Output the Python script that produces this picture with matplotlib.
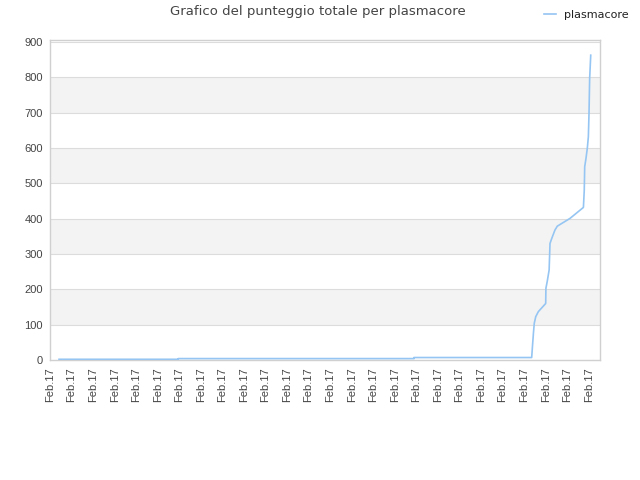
import matplotlib
matplotlib.use("Agg")
import matplotlib.pyplot as plt

# x in tick-slot units (tick i = i-th "Feb.17" label), y = total score
xs = [0.42, 5.95, 5.95, 16.89, 16.89, 22.35, 22.38, 22.43, 22.47, 22.54, 22.66,
      23.00, 23.01, 23.07, 23.16, 23.20, 23.28, 23.43, 23.54, 24.13, 24.75,
      24.79, 24.81, 24.87, 24.93, 24.98, 25.01, 25.04, 25.09]
scores = [2, 2, 4, 4, 7, 7, 33, 75, 104, 123, 137,
          160, 203, 222, 255, 330, 344, 368, 379, 401, 432,
          481, 547, 571, 599, 632, 698, 797, 863]
tick_labels = ["Feb.17"] * 26
yticks = [0, 100, 200, 300, 400, 500, 600, 700, 800, 900]

fig = plt.figure(figsize=(6.4, 4.8), dpi=100)
ax = fig.add_axes([50/640, 120/480, 550/640, 320/480])

# alternating bands
for lo in range(100, 900, 200):
    ax.axhspan(lo, lo + 100, color="#f3f3f3", zorder=0, lw=0)
for y in yticks[1:]:
    ax.axhline(y, color="#dcdcdc", lw=0.8, zorder=1)

ax.plot(xs, scores, color="#95c5f2", lw=1.2, label="plasmacore", zorder=3)

ax.set_xlim(0, 25.52)
ax.set_ylim(0, 906)
ax.set_yticks(yticks)
ax.set_xticks(range(len(tick_labels)))
ax.set_xticklabels(tick_labels, rotation=90, fontsize=8, color="#444444",
                   family="Liberation Sans")
for t in ax.get_yticklabels():
    t.set_fontsize(8); t.set_color("#444444"); t.set_family("Liberation Sans")
ax.tick_params(length=0, pad=5)
for s in ax.spines.values():
    s.set_color("#d0d0d0"); s.set_linewidth(1)

fig.text(318/640, 1 - 12/480, "Grafico del punteggio totale per plasmacore",
         ha="center", va="center", fontsize=9.5, color="#444444")
leg = fig.legend(loc="center left", bbox_to_anchor=(540/640, 1 - 15/480), frameon=False,
                 fontsize=8, handlelength=1.0, handletextpad=0.8, borderaxespad=0)
for t in leg.get_texts():
    t.set_color("#222222")

fig.savefig("out.png", dpi=100)
